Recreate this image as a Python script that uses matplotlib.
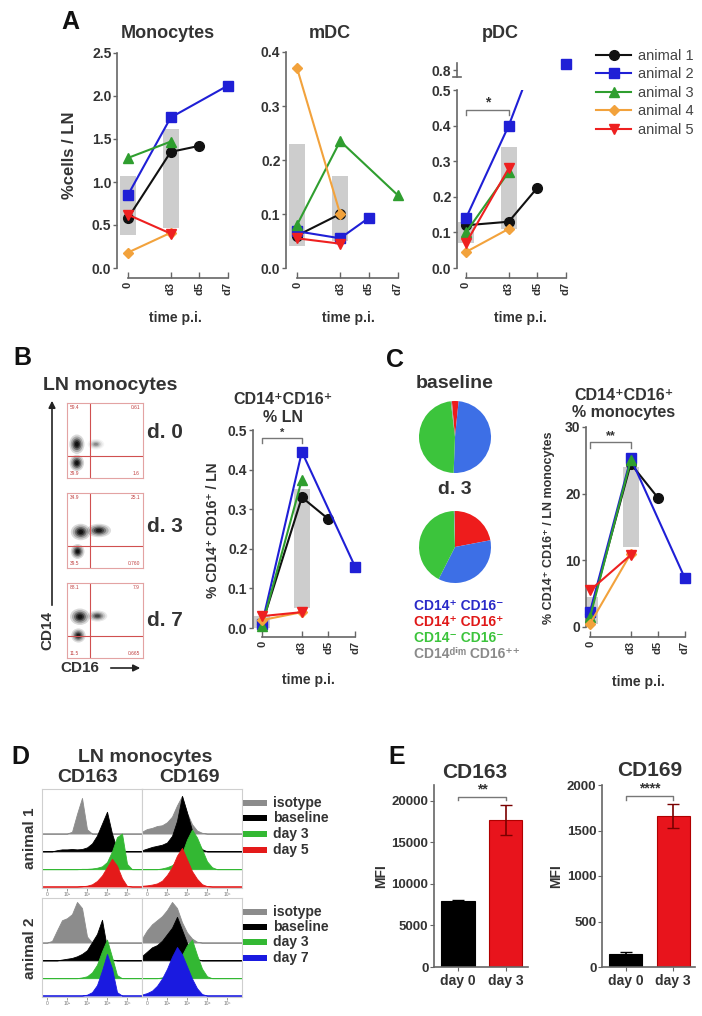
import numpy as np
import matplotlib
matplotlib.use('Agg')
import matplotlib.pyplot as plt
from matplotlib.lines import Line2D
from matplotlib.patches import Rectangle, Ellipse

plt.rcParams['font.family'] = ['Liberation Sans', 'DejaVu Sans']

# ---------------- data ----------------
ANIMALS = ['animal 1', 'animal 2', 'animal 3', 'animal 4', 'animal 5']
TIME_TICKS = [0, 3, 5, 7]
TIME_LABELS = ['0', 'd3', 'd5', 'd7']

# Panel A - Monocytes
mono_days = [[0, 3, 5], [0, 3, 7], [0, 3], [0, 3], [0, 3]]
mono_vals = [[0.58, 1.35, 1.42], [0.85, 1.75, 2.12], [1.28, 1.47], [0.18, 0.41], [0.62, 0.40]]
mono_bar_days = [0, 3]
mono_bar_lo = [0.38, 0.47]
mono_bar_hi = [1.07, 1.62]

# Panel A - mDC
mdc_days = [[0, 3], [0, 3, 5], [0, 3, 7], [0, 3], [0, 3]]
mdc_vals = [[0.060, 0.100], [0.068, 0.055, 0.093], [0.080, 0.235, 0.135], [0.370, 0.100], [0.055, 0.045]]
mdc_bar_days = [0, 3]
mdc_bar_lo = [0.04, 0.05]
mdc_bar_hi = [0.23, 0.17]

# Panel A - pDC
pdc_days = [[0, 3, 5], [0, 3, 7], [0, 3], [0, 3], [0, 3]]
pdc_vals = [[0.12, 0.13, 0.225], [0.14, 0.40, 0.82], [0.10, 0.27], [0.045, 0.11], [0.07, 0.28]]
pdc_bar_days = [0, 3]
pdc_bar_lo = [0.07, 0.11]
pdc_bar_hi = [0.13, 0.34]

# Panel B - CD14+CD16+ % LN
b_days = [[0, 3, 5], [0, 3, 7], [0, 3], [0, 3], [0, 3]]
b_vals = [[0.01, 0.33, 0.275], [0.01, 0.445, 0.155], [0.005, 0.375], [0.02, 0.04], [0.03, 0.04]]
b_bar_days = [0, 3]
b_bar_lo = [0.0, 0.05]
b_bar_hi = [0.03, 0.35]

# Panel C - CD14+CD16+ % monocytes
c_days = [[0, 3, 5], [0, 3, 7], [0, 3], [0, 3], [0, 3]]
c_vals = [[2.0, 24.5, 19.4], [2.3, 25.3, 7.3], [1.5, 25.0], [0.5, 11.0], [5.5, 10.8]]
c_bar_days = [0, 3]
c_bar_lo = [0.5, 12.0]
c_bar_hi = [4.5, 24.0]

# Panel C pies (legend order)
pie_labels = ['CD14⁺ CD16⁻', 'CD14⁺ CD16⁺', 'CD14⁻ CD16⁻', 'CD14ᵈⁱᵐ CD16⁺⁺']
pie_baseline = [49.0, 3.0, 47.5, 0.5]
pie_day3 = [35.5, 22.0, 42.0, 0.5]

# Panel B flow plots
flow_titles = ['d. 0', 'd. 3', 'd. 7']
flow_quadrant = [(0.30, 0.29), (0.30, 0.29), (0.30, 0.30)]
flow_numbers = [['59.4', '0.61', '39.9', '1.6'],
                ['34.9', '25.1', '39.5', '0.760'],
                ['88.1', '7.9', '11.5', '0.665']]
flow_blobs = [[(0.13, 0.45, 0.20, 0.26, 1.0), (0.13, 0.20, 0.19, 0.22, 1.0), (0.38, 0.45, 0.22, 0.14, 0.3)],
              [(0.18, 0.48, 0.26, 0.22, 1.0), (0.42, 0.50, 0.32, 0.18, 0.9), (0.14, 0.22, 0.18, 0.20, 1.0)],
              [(0.17, 0.55, 0.26, 0.22, 1.0), (0.40, 0.56, 0.26, 0.15, 0.6), (0.15, 0.30, 0.19, 0.19, 0.9)]]

# Panel D histograms (21-point profiles over the fluorescence range)
HIST_X = np.linspace(0, 1, 21)
cd163_a1 = {'isotype': [0, 0, 0, 0, 0, 0, 0.05, 0.55, 1.0, 0.12, 0, 0, 0, 0, 0, 0, 0, 0, 0, 0, 0],
            'baseline': [0, 0, 0, 0.03, 0.05, 0.05, 0.06, 0.05, 0.06, 0.1, 0.2, 0.4, 0.7, 1.0, 0.45, 0.05, 0, 0, 0, 0, 0],
            'day 3': [0, 0, 0, 0, 0, 0, 0, 0, 0.01, 0.01, 0.02, 0.04, 0.08, 0.2, 0.5, 0.9, 1.0, 0.15, 0, 0, 0],
            'day 5': [0, 0, 0, 0, 0, 0, 0, 0, 0.01, 0.03, 0.08, 0.2, 0.4, 0.7, 1.0, 0.75, 0.3, 0.02, 0, 0, 0]}
cd169_a1 = {'isotype': [0.05, 0.12, 0.15, 0.2, 0.22, 0.3, 0.45, 0.75, 1.0, 0.55, 0.25, 0.08, 0.02, 0, 0, 0, 0, 0, 0, 0, 0],
            'baseline': [0.02, 0.05, 0.08, 0.1, 0.12, 0.16, 0.28, 0.55, 1.0, 0.7, 0.38, 0.15, 0.04, 0, 0, 0, 0, 0, 0, 0, 0],
            'day 3': [0, 0, 0, 0, 0.02, 0.05, 0.1, 0.2, 0.4, 0.75, 1.0, 0.8, 0.5, 0.2, 0.05, 0, 0, 0, 0, 0, 0],
            'day 5': [0.02, 0.03, 0.05, 0.08, 0.15, 0.3, 0.5, 0.8, 1.0, 0.7, 0.4, 0.2, 0.06, 0.01, 0, 0, 0, 0, 0, 0, 0]}
cd163_a2 = {'isotype': [0, 0, 0.04, 0.3, 0.55, 0.6, 0.7, 1.0, 0.85, 0.15, 0, 0, 0, 0, 0, 0, 0, 0, 0, 0, 0],
            'baseline': [0, 0, 0, 0, 0.02, 0.04, 0.06, 0.1, 0.16, 0.25, 0.45, 0.65, 1.0, 0.3, 0.02, 0, 0, 0, 0, 0, 0],
            'day 3': [0, 0, 0, 0, 0, 0, 0, 0, 0.02, 0.05, 0.15, 0.35, 0.7, 1.0, 0.55, 0.08, 0, 0, 0, 0, 0],
            'day 7': [0, 0, 0, 0, 0, 0, 0, 0, 0, 0.02, 0.08, 0.25, 0.6, 1.0, 0.65, 0.08, 0, 0, 0, 0, 0]}
cd169_a2 = {'isotype': [0.1, 0.3, 0.45, 0.55, 0.65, 0.8, 1.0, 0.85, 0.5, 0.25, 0.1, 0.02, 0, 0, 0, 0, 0, 0, 0, 0, 0],
            'baseline': [0.1, 0.2, 0.3, 0.35, 0.45, 0.6, 0.75, 1.0, 0.7, 0.4, 0.15, 0.03, 0, 0, 0, 0, 0, 0, 0, 0, 0],
            'day 3': [0, 0, 0, 0, 0.02, 0.05, 0.15, 0.35, 0.6, 0.85, 1.0, 0.6, 0.25, 0.05, 0, 0, 0, 0, 0, 0, 0],
            'day 7': [0.02, 0.05, 0.1, 0.2, 0.35, 0.55, 0.8, 1.0, 0.85, 0.6, 0.35, 0.15, 0.03, 0, 0, 0, 0, 0, 0, 0, 0]}
hist_heights = {'cd163_a1': [0.36, 0.40, 0.36, 0.28], 'cd169_a1': [0.38, 0.56, 0.40, 0.39],
                'cd163_a2': [0.41, 0.41, 0.39, 0.42], 'cd169_a2': [0.41, 0.44, 0.39, 0.49]}
hist_tick_labels = ['0', '10²', '10³', '10⁴', '10⁵']

# Panel E
e_groups = ['day 0', 'day 3']
cd163_mean = [7900, 17700]
cd163_err = [200, 1800]
cd169_mean = [140, 1660]
cd169_err = [25, 130]

# ---------------- style / layout ----------------
W, H = 702, 1016
fig = plt.figure(figsize=(W / 100, H / 100), dpi=100)
fig.patch.set_facecolor('white')

TXT = '#333333'
AXC = '#666666'
COLORS = ['#111111', '#1f1fd6', '#2f9e2f', '#f2a23c', '#ee2020']
MARKERS = ['o', 's', '^', 'D', 'v']
MSIZES = [7, 7, 7, 5, 7]


def px_axes(l, t, r, b):
    return fig.add_axes([l / W, 1 - b / H, (r - l) / W, (b - t) / H])


def gp_axes(ax, ymax, yticks, ytl, xoff):
    ax.patch.set_alpha(0)
    for s in ['top', 'right']:
        ax.spines[s].set_visible(False)
    for s in ['left', 'bottom']:
        ax.spines[s].set_color(AXC)
        ax.spines[s].set_linewidth(1.2)
    ax.spines['left'].set_bounds(0, ymax)
    ax.spines['bottom'].set_bounds(0, 7)
    ax.spines['bottom'].set_position(('outward', xoff * 0.72))
    ax.set_yticks(yticks)
    ax.set_yticklabels(ytl)
    ax.set_xticks(TIME_TICKS)
    ax.set_xticklabels(TIME_LABELS, rotation=90)
    ax.tick_params(axis='y', direction='out', length=3, width=1, color=AXC,
                   labelsize=10, labelcolor=TXT, pad=1)
    ax.tick_params(axis='x', direction='in', length=4, width=1, color=AXC,
                   labelsize=8, labelcolor=TXT, pad=3)
    for lab in ax.get_xticklabels() + ax.get_yticklabels():
        lab.set_fontweight('bold')


def draw_series(ax, days, vals, bdays, lo, hi, clip=False, barw=1.1):
    lo = np.array(lo)
    hi = np.array(hi)
    ax.bar(bdays, hi - lo, bottom=lo, width=barw, color='#c8c8c8', alpha=0.9, lw=0, zorder=1)
    for i in range(len(days)):
        ax.plot(days[i], vals[i], color=COLORS[i], marker=MARKERS[i], ms=MSIZES[i],
                lw=1.5, zorder=3 + 0.1 * i, clip_on=clip)


def bracket(ax, x0, x1, y, dy, label, fs=10):
    ax.plot([x0, x0, x1, x1], [y - dy, y, y, y - dy], color='#777777', lw=1, clip_on=False, zorder=5)
    ax.text((x0 + x1) / 2, y, label, ha='center', va='bottom', fontsize=fs,
            fontweight='bold', color=TXT)


# ---- Panel A ----
ax = px_axes(117, 53, 232, 268)
draw_series(ax, mono_days, mono_vals, mono_bar_days, mono_bar_lo, mono_bar_hi)
ax.set_xlim(-0.77, 7.3)
ax.set_ylim(0, 2.5)
gp_axes(ax, 2.5, [0, 0.5, 1.0, 1.5, 2.0, 2.5], ['0.0', '0.5', '1.0', '1.5', '2.0', '2.5'], 10)

ax = px_axes(286, 52, 402, 268)
draw_series(ax, mdc_days, mdc_vals, mdc_bar_days, mdc_bar_lo, mdc_bar_hi)
ax.set_xlim(-0.77, 7.3)
ax.set_ylim(0, 0.4)
gp_axes(ax, 0.4, [0, 0.1, 0.2, 0.3, 0.4], ['0.0', '0.1', '0.2', '0.3', '0.4'], 10)

ax = px_axes(457, 90, 570, 268)
draw_series(ax, pdc_days, pdc_vals, pdc_bar_days, pdc_bar_lo, pdc_bar_hi, clip=True)
ax.set_xlim(-0.63, 7.3)
ax.set_ylim(0, 0.5)
gp_axes(ax, 0.5, [0, 0.1, 0.2, 0.3, 0.4, 0.5], ['0.0', '0.1', '0.2', '0.3', '0.4', '0.5'], 10)
bracket(ax, 0, 3, 0.445, 0.015, '*')

axu = px_axes(457, 60, 570, 80)
axu.set_xlim(-0.63, 7.3)
axu.set_ylim(0.765, 0.835)
axu.patch.set_alpha(0)
for s in ['top', 'right', 'bottom']:
    axu.spines[s].set_visible(False)
axu.spines['left'].set_color(AXC)
axu.spines['left'].set_linewidth(1.2)
axu.spines['left'].set_bounds(0.775, 0.825)
axu.set_xticks([])
axu.set_yticks([0.8])
axu.set_yticklabels(['0.8'])
axu.tick_params(axis='y', direction='out', length=3, width=1, color=AXC, labelsize=10, labelcolor=TXT, pad=1)
for lab in axu.get_yticklabels():
    lab.set_fontweight('bold')
axu.plot([-0.9, -0.35], [0.775, 0.775], color=AXC, lw=1.2, clip_on=False)
axu.plot([pdc_days[1][-1]], [pdc_vals[1][-1]], color=COLORS[1], marker=MARKERS[1], ms=MSIZES[1], clip_on=False)

handles = [Line2D([0], [0], color=COLORS[i], marker=MARKERS[i], ms=MSIZES[i], lw=1.5) for i in range(5)]
fig.legend(handles, ANIMALS, loc='upper left', bbox_to_anchor=(583 / W, 1 - 36 / H), frameon=False,
           fontsize=10.5, handlelength=2.4, labelspacing=0.3, handletextpad=0.5, labelcolor='#444444')

# ---- Panel B flow plots ----
flow_boxes = [(67, 403, 143, 478), (67, 493, 143, 568), (67, 583, 143, 658)]
for k in range(3):
    fa = px_axes(*flow_boxes[k])
    fa.set_xlim(0, 1)
    fa.set_ylim(0, 1)
    fa.set_xticks([])
    fa.set_yticks([])
    for s in fa.spines.values():
        s.set_color('#e3a3a3')
        s.set_linewidth(0.8)
    for (cx, cy, w, h, a) in flow_blobs[k]:
        for sc, al in [(1.0, 0.15), (0.8, 0.22), (0.6, 0.35), (0.42, 0.5), (0.25, 0.65)]:
            fa.add_patch(Ellipse((cx, cy), w * sc, h * sc, color='black', alpha=al * a, lw=0))
    qx, qy = flow_quadrant[k]
    fa.axvline(qx, color='#d05050', lw=0.8)
    fa.axhline(qy, color='#d05050', lw=0.8)
    n = flow_numbers[k]
    for (x, y, ha, va, s) in [(0.04, 0.97, 'left', 'top', n[0]), (0.96, 0.97, 'right', 'top', n[1]),
                              (0.04, 0.03, 'left', 'bottom', n[2]), (0.96, 0.03, 'right', 'bottom', n[3])]:
        fa.text(x, y, s, ha=ha, va=va, fontsize=3.5, color='#c04040')

# ---- Panel B line plot ----
ax = px_axes(253, 430, 359, 628)
draw_series(ax, b_days, b_vals, b_bar_days, b_bar_lo, b_bar_hi, barw=1.2)
ax.set_xlim(-0.68, 7.3)
ax.set_ylim(0, 0.5)
gp_axes(ax, 0.5, [0, 0.1, 0.2, 0.3, 0.4, 0.5], ['0.0', '0.1', '0.2', '0.3', '0.4', '0.5'], 9)
bracket(ax, 0, 3, 0.48, 0.012, '*', fs=8)

# ---- Panel C pies ----
pie_colors = ['#3d6fe6', '#ee1c1c', '#3cc43c', '#9a9a9a']
draw_order = [1, 0, 2, 3]
for (cy, vals, start) in [(437, pie_baseline, 95), (547, pie_day3, 90)]:
    pa = px_axes(419, cy - 36, 491, cy + 36)
    pa.pie([vals[i] for i in draw_order], colors=[pie_colors[i] for i in draw_order],
           startangle=start, counterclock=False, radius=1.0, wedgeprops=dict(lw=0))
    pa.set_xlim(-1.0, 1.0)
    pa.set_ylim(-1.0, 1.0)
    pa.set_aspect('equal')

# ---- Panel C line plot ----
ax = px_axes(586, 427, 689, 627)
draw_series(ax, c_days, c_vals, c_bar_days, c_bar_lo, c_bar_hi, barw=1.2)
ax.set_xlim(-0.3, 7.3)
ax.set_ylim(0, 30)
gp_axes(ax, 30, [0, 10, 20, 30], ['0', '10', '20', '30'], 10)
bracket(ax, 0, 3, 27.7, 0.9, '**', fs=9)

# ---- Panel D histograms ----
hist_boxes = [('cd163_a1', cd163_a1, (42, 789, 142, 888)), ('cd169_a1', cd169_a1, (142, 789, 242, 888)),
              ('cd163_a2', cd163_a2, (42, 898, 142, 997)), ('cd169_a2', cd169_a2, (142, 898, 242, 997))]
hist_colors = {'isotype': '#8c8c8c', 'baseline': '#000000', 'day 3': '#33b833',
               'day 5': '#e41a1a', 'day 7': '#1a1ae0'}
bases = [0.55, 0.37, 0.19, 0.015]
for key, prof, box in hist_boxes:
    ha_ = px_axes(*box)
    ha_.set_xlim(0, 1)
    ha_.set_ylim(0, 1)
    for s in ha_.spines.values():
        s.set_color('#cfcfcf')
        s.set_linewidth(0.8)
    names = list(prof.keys())
    for j, nm in enumerate(names):
        yv = bases[j] + hist_heights[key][j] * np.array(prof[nm])
        ha_.fill_between(HIST_X, bases[j], yv, color=hist_colors[nm], lw=0.6, edgecolor=hist_colors[nm])
    ha_.set_yticks([])
    ha_.set_xticks([0.05, 0.25, 0.45, 0.65, 0.85])
    ha_.set_xticklabels(hist_tick_labels)
    ha_.tick_params(axis='x', length=2, width=0.6, color='#888888', labelsize=3.5, labelcolor='#777777', pad=1)

# ---- Panel E ----
for (l, r, means, errs, ymax, yt, title) in [
        (434, 528, cd163_mean, cd163_err, 21900, [0, 5000, 10000, 15000, 20000], 'CD163'),
        (602, 695, cd169_mean, cd169_err, 2000, [0, 500, 1000, 1500, 2000], 'CD169')]:
    ea = px_axes(l, 785, r, 967)
    ea.bar([0, 1], means, width=0.69, color=['#000000', '#e8141c'],
           edgecolor=['#000000', '#b00000'], lw=0.8, zorder=2)
    ea.errorbar([0], [means[0]], yerr=[errs[0]], fmt='none', ecolor='#000000', capsize=4, elinewidth=1.2, zorder=3)
    ea.errorbar([1], [means[1]], yerr=[errs[1]], fmt='none', ecolor='#7a0000', capsize=4, elinewidth=1.2, zorder=3)
    ea.set_xlim(-0.5, 1.46)
    ea.set_ylim(0, ymax)
    for s in ['top', 'right']:
        ea.spines[s].set_visible(False)
    for s in ['left', 'bottom']:
        ea.spines[s].set_color(AXC)
        ea.spines[s].set_linewidth(1.2)
    ea.set_yticks(yt)
    ea.set_xticks([0, 1])
    ea.set_xticklabels(e_groups)
    ea.tick_params(axis='y', direction='out', length=3, color=AXC, labelsize=9.5, labelcolor=TXT, pad=1)
    ea.tick_params(axis='x', direction='out', length=3, color=AXC, labelsize=10, labelcolor=TXT, pad=2)
    for lab in ea.get_xticklabels() + ea.get_yticklabels():
        lab.set_fontweight('bold')
    if title == 'CD163':
        bracket(ea, 0, 1, 20500, 450, '**', fs=10)
    else:
        bracket(ea, 0, 1, 1880, 40, '****', fs=10)

# ---- overlay text ----
ov = fig.add_axes([0, 0, 1, 1])
ov.set_xlim(0, W)
ov.set_ylim(H, 0)
ov.axis('off')


def T(x, y, s, fs, bold=True, color=TXT, rot=0, ha='center', va='center'):
    ov.text(x, y, s, fontsize=fs, fontweight='bold' if bold else 'normal', color=color,
            rotation=rot, ha=ha, va=va)


for (x, y, s) in [(70, 22, 'A'), (22, 358, 'B'), (395, 360, 'C'), (20, 757, 'D'), (397, 757, 'E')]:
    T(x, y, s, 18, color='#111111')

T(168, 33, 'Monocytes', 13)
T(330, 33, 'mDC', 13)
T(500, 33, 'pDC', 13)
T(70, 155, '%cells / LN', 12, rot=90)
for (x, y) in [(175, 318), (348, 318), (520, 318), (308, 680), (638, 682)]:
    T(x, y, 'time p.i.', 10)

T(110, 385, 'LN monocytes', 14)
for k, y in enumerate([433, 527, 620]):
    T(165, y, flow_titles[k], 15)
ov.annotate('', xy=(52, 398), xytext=(52, 608),
            arrowprops=dict(arrowstyle='-|>', color='#222222', lw=1.2, mutation_scale=10))
T(47, 630, 'CD14', 11, rot=90)
T(80, 668, 'CD16', 11)
ov.annotate('', xy=(143, 668), xytext=(108, 668),
            arrowprops=dict(arrowstyle='-|>', color='#222222', lw=1.2, mutation_scale=10))

T(283, 400, 'CD14⁺CD16⁺', 11.5)
T(283, 417, '% LN', 11.5)
T(213, 530, '% CD14⁺ CD16⁺ / LN', 10, rot=90)

T(455, 383, 'baseline', 14)
T(455, 490, 'd. 3', 14)
leg_cols = ['#2a2ac8', '#e01818', '#3cc43c', '#8a8a8a']
for i, y in enumerate([606, 622, 638, 654]):
    T(414, y, pie_labels[i], 10, color=leg_cols[i], ha='left')
T(624, 396, 'CD14⁺CD16⁺', 11.5)
T(624, 413, '% monocytes', 11.5)
T(549, 528, '% CD14⁺ CD16⁺ / LN monocytes', 9, rot=90)

T(145, 757, 'LN monocytes', 14)
T(88, 778, 'CD163', 14)
T(190, 778, 'CD169', 14)
T(30, 838, 'animal 1', 11, rot=90)
T(30, 948, 'animal 2', 11, rot=90)
leg_sets = [(['isotype', 'baseline', 'day 3', 'day 5'], [803, 818, 834, 850]),
            (['isotype', 'baseline', 'day 3', 'day 7'], [912, 927, 942, 958])]
for names, ys in leg_sets:
    for nm, y in zip(names, ys):
        ov.add_patch(Rectangle((243, y - 3), 24, 6, color=hist_colors[nm], lw=0))
        T(273, y, nm, 10, ha='left')

T(475, 772, 'CD163', 15)
T(650, 770, 'CD169', 15)
T(381, 876, 'MFI', 10, rot=90)
T(556, 876, 'MFI', 10, rot=90)

fig.savefig('out.png', dpi=100, facecolor='white')
